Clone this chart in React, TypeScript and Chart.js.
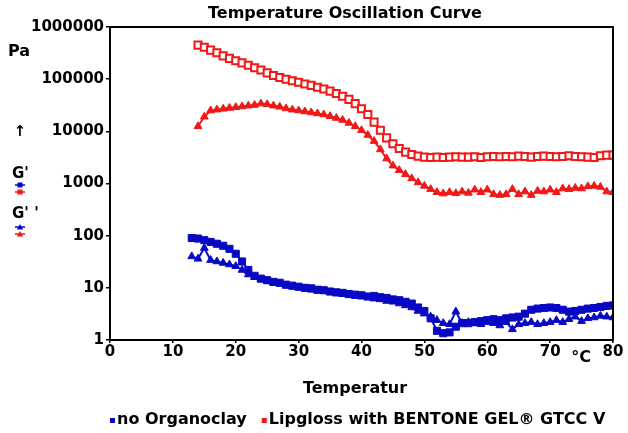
import React, { useEffect, useRef } from "react";
import { Chart, registerables } from "chart.js";

Chart.register(...registerables);

// ---------- data ----------
const tempLipgloss = [
  14, 15, 16, 17, 18, 19, 20, 21, 22, 23, 24, 25, 26, 27, 28, 29, 30, 31, 32, 33,
  34, 35, 36, 37, 38, 39, 40, 41, 42, 43, 44, 45, 46, 47, 48, 49, 50, 51, 52, 53,
  54, 55, 56, 57, 58, 59, 60, 61, 62, 63, 64, 65, 66, 67, 68, 69, 70, 71, 72, 73,
  74, 75, 76, 77, 78, 79, 80,
];
const gPrimeLipgloss = [
  450000, 410000, 360000, 320000, 280000, 250000, 225000, 205000, 185000, 165000,
  150000, 132000, 118000, 108000, 100000, 93000, 87000, 81000, 76000, 70000,
  65000, 59000, 53000, 47000, 41000, 34000, 27000, 21000, 15000, 10500,
  7500, 5800, 4700, 4000, 3600, 3350, 3200, 3150, 3200, 3150,
  3200, 3250, 3200, 3200, 3250, 3150, 3250, 3300, 3250, 3300,
  3250, 3350, 3300, 3200, 3300, 3350, 3300, 3250, 3300, 3400,
  3300, 3250, 3200, 3150, 3400, 3500, 3500,
];
const gDoublePrimeLipgloss = [
  12500, 19000, 25000, 26000, 27000, 28000, 29000, 30000, 31000, 32000,
  34000, 33000, 31000, 29500, 27500, 26000, 25000, 24000, 23000, 22000,
  21000, 19500, 18000, 16500, 14500, 12500, 10500, 8500, 6500, 4500,
  3000, 2200, 1800, 1500, 1250, 1050, 900, 780, 680, 640,
  680, 650, 700, 660, 760, 680, 760, 620, 600, 620,
  780, 620, 700, 600, 720, 700, 760, 680, 800, 780,
  820, 800, 880, 900, 860, 700, 680,
];
const tempNoClay = [
  13, 14, 15, 16, 17, 18, 19, 20, 21, 22, 23, 24, 25, 26, 27, 28, 29, 30, 31, 32,
  33, 34, 35, 36, 37, 38, 39, 40, 41, 42, 43, 44, 45, 46, 47, 48, 49, 50, 51, 52,
  53, 54, 55, 56, 57, 58, 59, 60, 61, 62, 63, 64, 65, 66, 67, 68, 69, 70, 71, 72,
  73, 74, 75, 76, 77, 78, 79, 80,
];
const gPrimeNoClay = [
  90, 88, 82, 76, 70, 64, 56, 45, 32, 22,
  17, 15, 14, 13, 12.5, 11.5, 11, 10.5, 10, 9.8,
  9.2, 9, 8.5, 8.2, 8, 7.6, 7.4, 7.2, 6.8, 7,
  6.6, 6.4, 6, 5.8, 5.4, 5, 4.2, 3.6, 2.6, 1.5,
  1.35, 1.4, 1.8, 2.1, 2.1, 2.2, 2.3, 2.4, 2.5, 2.4,
  2.6, 2.7, 2.8, 3.2, 3.8, 4, 4.1, 4.2, 4.1, 3.8,
  3.5, 3.6, 3.8, 4, 4.1, 4.3, 4.5, 4.6,
];
const gDoublePrimeNoClay = [
  40, 36, 58, 34, 32, 30, 28, 26, 22, 18,
  16, 14.5, 13.5, 12.5, 12, 11, 10.5, 10, 9.6, 9.2,
  8.8, 8.6, 8.2, 7.8, 7.6, 7.2, 7, 6.8, 6.6, 6.2,
  6, 5.6, 5.4, 5, 4.6, 4.2, 3.6, 3.2, 2.8, 2.4,
  2.1, 2, 3.5, 2.1, 2.2, 2.1, 2, 2.2, 2.1, 1.9,
  2.2, 1.6, 2, 2.1, 2.2, 2, 2.1, 2.2, 2.4, 2.2,
  2.5, 2.8, 2.3, 2.6, 2.7, 2.9, 2.8, 2.7,
];
const xTickValues = [0, 10, 20, 30, 40, 50, 60, 70, 80];
const yTickValues = [1, 10, 100, 1000, 10000, 100000, 1000000];

const titleText = "Temperature Oscillation Curve";
const xAxisTitle = "Temperatur";
const xUnit = "°C";
const yUnit = "Pa";
const arrowText = "↑";
const gPrimeLabel = "G'";
const gDoublePrimeLabel = "G' '";
const legendNames = ["no Organoclay", "Lipgloss with BENTONE GEL® GTCC V"];

const RED = "#f01818";
const BLUE = "#0808c4";
const FONT = "DejaVu Sans";

const toPoints = (xs: number[], ys: number[]) => xs.map((x, i) => ({ x, y: ys[i] }));

const drawMiniMarker = (
  ctx: CanvasRenderingContext2D,
  cx: number,
  cy: number,
  color: string,
  shape: "rect" | "triangle"
) => {
  ctx.save();
  ctx.strokeStyle = color;
  ctx.fillStyle = color;
  ctx.lineWidth = 1.5;
  ctx.beginPath();
  ctx.moveTo(cx - 5, cy);
  ctx.lineTo(cx + 5, cy);
  ctx.stroke();
  if (shape === "rect") {
    ctx.fillRect(cx - 2.5, cy - 2.5, 5, 5);
  } else {
    ctx.beginPath();
    ctx.moveTo(cx, cy - 3);
    ctx.lineTo(cx + 3.2, cy + 2.5);
    ctx.lineTo(cx - 3.2, cy + 2.5);
    ctx.closePath();
    ctx.fill();
  }
  ctx.restore();
};

const decorPlugin = {
  id: "decor",
  afterDraw(chart: any) {
    const { ctx, chartArea } = chart;
    const { left, right, top, bottom } = chartArea;
    ctx.save();
    ctx.strokeStyle = "#000";
    ctx.lineWidth = 2;
    ctx.strokeRect(left, top, right - left, bottom - top);

    ctx.fillStyle = "#000";
    ctx.textBaseline = "middle";
    ctx.font = `bold 16px "${FONT}"`;
    ctx.textAlign = "center";
    ctx.fillText(titleText, left + 235, 14);
    ctx.fillText(xAxisTitle, left + 245, 389);
    ctx.fillText(xUnit, right - 32, 358);

    ctx.textAlign = "left";
    ctx.fillText(yUnit, 8, 52);
    ctx.textAlign = "center";
    ctx.font = `bold 15px "${FONT}"`;
    ctx.fillText(arrowText, 20, 132);
    ctx.textAlign = "left";
    ctx.fillText(gPrimeLabel, 12, 174);
    ctx.fillText(gDoublePrimeLabel, 12, 214);
    drawMiniMarker(ctx, 20, 185, BLUE, "rect");
    drawMiniMarker(ctx, 20, 192, RED, "rect");
    drawMiniMarker(ctx, 20, 227, BLUE, "triangle");
    drawMiniMarker(ctx, 20, 234, RED, "triangle");

    ctx.font = `bold 16px "${FONT}"`;
    ctx.textAlign = "left";
    let x = left;
    const ly = 420;
    const colors = [BLUE, RED];
    legendNames.forEach((name, i) => {
      ctx.fillStyle = colors[i];
      ctx.fillRect(x, ly - 2, 5, 5);
      x += 7;
      ctx.fillStyle = "#000";
      ctx.fillText(name, x, ly);
      x += ctx.measureText(name).width + 15;
    });
    ctx.restore();
  },
};

export default function App() {
  const canvasRef = useRef<HTMLCanvasElement | null>(null);

  useEffect(() => {
    document.body.style.margin = "0";
    const canvas = canvasRef.current;
    if (!canvas) return;
    const tickFont = { family: FONT, size: 15, weight: "bold" as const };
    const chart = new Chart(canvas, {
      type: "scatter",
      data: {
        datasets: [
          {
            label: "G' no Organoclay",
            data: toPoints(tempNoClay, gPrimeNoClay),
            showLine: true,
            borderWidth: 2,
            pointStyle: "rect",
            pointRadius: 5,
            pointBorderWidth: 1,
            backgroundColor: BLUE,
            borderColor: BLUE,
          },
          {
            label: "G'' no Organoclay",
            data: toPoints(tempNoClay, gDoublePrimeNoClay),
            showLine: true,
            borderWidth: 2,
            pointStyle: "triangle",
            pointRadius: 4.5,
            pointBorderWidth: 1,
            backgroundColor: BLUE,
            borderColor: BLUE,
          },
          {
            label: "G' Lipgloss",
            data: toPoints(tempLipgloss, gPrimeLipgloss),
            showLine: true,
            borderWidth: 1.5,
            pointStyle: "rect",
            pointRadius: 5,
            pointBorderWidth: 2,
            pointBackgroundColor: "#ffffff",
            backgroundColor: RED,
            borderColor: RED,
          },
          {
            label: "G'' Lipgloss",
            data: toPoints(tempLipgloss, gDoublePrimeLipgloss),
            showLine: true,
            borderWidth: 2,
            pointStyle: "triangle",
            pointRadius: 4.5,
            pointBorderWidth: 1,
            backgroundColor: RED,
            borderColor: RED,
          },
        ],
      },
      options: {
        responsive: false,
        animation: false,
        devicePixelRatio: 1,
        layout: { padding: { top: 27, right: 15, left: 0, bottom: 0 } },
        plugins: {
          legend: { display: false },
          title: { display: false },
          tooltip: { enabled: false },
        },
        scales: {
          x: {
            type: "linear",
            min: 0,
            max: 80,
            afterBuildTicks: (axis: any) => {
              axis.ticks = xTickValues.map((v) => ({ value: v }));
            },
            afterFit: (axis: any) => {
              axis.height = 93;
            },
            ticks: {
              color: "#000",
              font: tickFont,
              padding: 0,
              maxRotation: 0,
              autoSkip: false,
            },
            grid: {
              display: true,
              drawOnChartArea: false,
              drawTicks: true,
              tickLength: 3,
              color: "#000",
              lineWidth: 1.5,
            },
            border: { display: true, color: "#000", width: 2 },
          },
          y: {
            type: "logarithmic",
            min: 1,
            max: 1000000,
            afterBuildTicks: (axis: any) => {
              axis.ticks = yTickValues.map((v) => ({ value: v }));
            },
            afterFit: (axis: any) => {
              axis.width = 110;
            },
            ticks: {
              color: "#000",
              font: tickFont,
              padding: 2,
              autoSkip: false,
              callback: (v: any) => String(Number(v)),
            },
            grid: {
              display: true,
              drawOnChartArea: false,
              drawTicks: true,
              tickLength: 4,
              color: "#000",
              lineWidth: 1.5,
            },
            border: { display: true, color: "#000", width: 2 },
          },
        },
      },
      plugins: [decorPlugin],
    });
    return () => chart.destroy();
  }, []);

  return (
    <div style={{ position: "relative", width: 628, height: 433, background: "#fff" }}>
      <canvas ref={canvasRef} width={628} height={433} />
    </div>
  );
}
